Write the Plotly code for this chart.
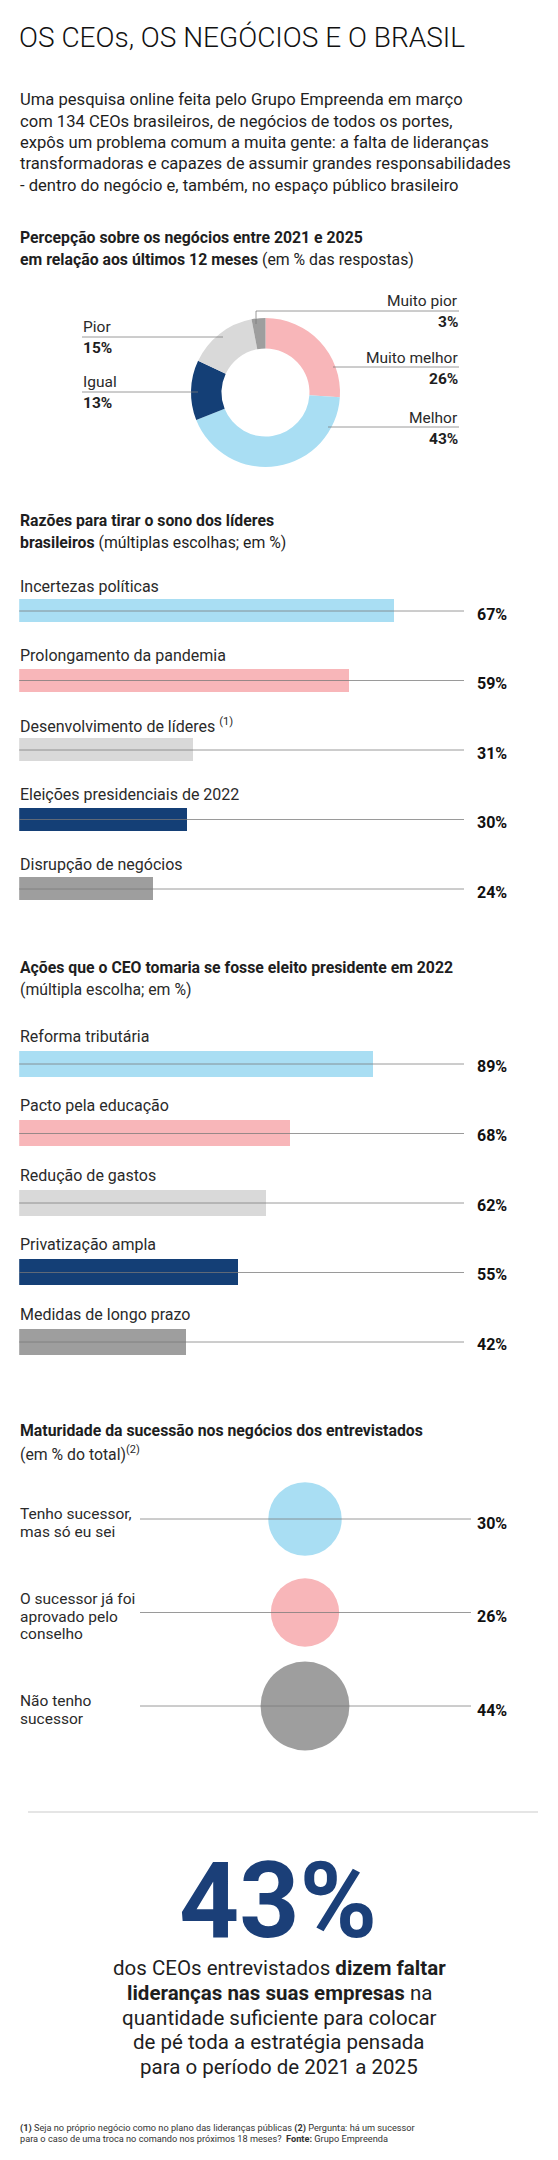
import plotly.graph_objects as go

# page is 558 x 2160; the html body adds an 8px margin, so the figure is 550 x 2152
PAGE_W, PAGE_H = 558, 2160
OFF = 8
W, H = PAGE_W - OFF, PAGE_H - OFF

# ---------------- data ----------------
title_text = "OS CEOs, OS NEGÓCIOS E O BRASIL"
intro_lines = [
    "Uma pesquisa online feita pelo Grupo Empreenda em março",
    "com 134 CEOs brasileiros, de negócios de todos os portes,",
    "expôs um problema comum a muita gente: a falta de lideranças",
    "transformadoras e capazes de assumir grandes responsabilidades",
    "- dentro do negócio e, também, no espaço público brasileiro",
]

pie_labels = ["Muito melhor", "Melhor", "Igual", "Pior", "Muito pior"]
pie_values = [26, 43, 13, 15, 3]

sono_labels = ["Incertezas políticas", "Prolongamento da pandemia",
               "Desenvolvimento de líderes", "Eleições presidenciais de 2022",
               "Disrupção de negócios"]
sono_notes = ["", "", " <sup>(1)</sup>", "", ""]
sono_values = [67, 59, 31, 30, 24]

acoes_labels = ["Reforma tributária", "Pacto pela educação", "Redução de gastos",
                "Privatização ampla", "Medidas de longo prazo"]
acoes_values = [89, 68, 62, 55, 42]

sucessao_labels = ["Tenho sucessor,<br>mas só eu sei",
                   "O sucessor já foi<br>aprovado pelo<br>conselho",
                   "Não tenho<br>sucessor"]
sucessao_values = [30, 26, 44]

destaque_value = 43
destaque_lines = [
    "dos CEOs entrevistados <b>dizem faltar</b>",
    "<b>lideranças nas suas empresas</b> na",
    "quantidade suficiente para colocar",
    "de pé toda a estratégia pensada",
    "para o período de 2021 a 2025",
]
footnote_lines = [
    "<b>(1)</b> Seja no próprio negócio como no plano das lideranças públicas <b>(2)</b> Pergunta: há um sucessor",
    "para o caso de uma troca no comando nos próximos 18 meses?  <b>Fonte:</b> Grupo Empreenda",
]

# ---------------- style ----------------
LBLUE, PINK, DBLUE, LGRAY, GRAY = "#A9DEF3", "#F8B6B9", "#143F76", "#D9D9D9", "#9E9E9E"
pie_colors = [PINK, LBLUE, DBLUE, LGRAY, GRAY]
bar_colors = [LBLUE, PINK, LGRAY, DBLUE, GRAY]
circle_colors = [LBLUE, PINK, GRAY]
BIG_BLUE = "#1B3F78"

FONT = "Roboto, 'Noto Sans', sans-serif"
TXT = "#1e1e1e"
LBL = "#2a2a2a"
LINE = "rgba(120,120,120,0.75)"

LEFT = 18          # left text edge (page px)
VAL_RIGHT = 509    # right edge of the value labels
BAR_X0 = 19.2      # bar baseline
LINE_END = 464     # end of the guide lines


def X(p):
    return (p - OFF) / W


def Y(p):
    return 1 - (p - OFF) / H


annotations = []
shapes = []


def text(x, y, s, size, anchor="left", color=TXT, family=FONT, weight=None):
    f = dict(family=family, size=size, color=color)
    if weight:
        f["weight"] = weight
    annotations.append(dict(x=X(x), y=Y(y), xref="paper", yref="paper", text=s,
                            showarrow=False, xanchor=anchor, yanchor="middle",
                            align=anchor, font=f))


def hline(x0, x1, y, color=LINE, width=1, xref="paper", yref="paper"):
    shapes.append(dict(type="line", xref=xref, yref=yref, x0=x0, x1=x1, y0=y, y1=y,
                       line=dict(color=color, width=width), layer="above"))


def band(c_first, c_last, n):
    step = (c_last - c_first) / (n - 1)
    return [Y(c_last + step / 2), Y(c_first - step / 2)], step


fig = go.Figure()

# ---------------- header ----------------
text(LEFT - 1, 38, title_text, 28, color="#111", weight=300)
for i, line in enumerate(intro_lines):
    text(LEFT, 100 + i * 21.3, line, 16.6)

# ---------------- donut ----------------
text(LEFT, 237, "<b>Percepção sobre os negócios entre 2021 e 2025</b>", 15.8)
text(LEFT, 259, "<b>em relação aos últimos 12 meses</b> (em % das respostas)", 15.8)

fig.add_trace(go.Pie(labels=pie_labels, values=pie_values, sort=False,
                     direction="clockwise", rotation=0, hole=0.59,
                     marker=dict(colors=pie_colors, line=dict(width=0)),
                     textinfo="none", hoverinfo="skip", showlegend=False,
                     domain=dict(x=[X(191), X(340)], y=[Y(467), Y(318)])))

pie_label_pos = {
    "Muito pior": (460, 301, "right"),
    "Muito melhor": (460, 358, "right"),
    "Melhor": (460, 418, "right"),
    "Pior": (81, 327, "left"),
    "Igual": (81, 382, "left"),
}
for lab, val in zip(pie_labels, pie_values):
    x, y, a = pie_label_pos[lab]
    text(x, y, lab, 15.5, anchor=a, color=LBL)
    text(x, y + 21, f"<b>{val}%</b>", 15.5, anchor=a)

pie_leaders = [(256, 459, 311), (333, 459, 367), (328, 459, 427), (82, 223, 337), (82, 198, 392)]
for x0, x1, y in pie_leaders:
    hline(X(x0), X(x1), Y(y))
shapes.append(dict(type="line", xref="paper", yref="paper", x0=X(256), x1=X(256),
                   y0=Y(311), y1=Y(324), line=dict(color=LINE, width=1), layer="above"))

# ---------------- bars: razões ----------------
text(LEFT, 520, "<b>Razões para tirar o sono dos líderes</b>", 15.8)
text(LEFT, 542, "<b>brasileiros</b> (múltiplas escolhas; em %)", 15.8)

dom1, step1 = band(611, 889, len(sono_labels))
fig.add_trace(go.Bar(x=sono_values, y=sono_labels, orientation="h",
                     marker=dict(color=bar_colors, line=dict(width=0)),
                     width=23 / step1, hoverinfo="skip", showlegend=False,
                     xaxis="x", yaxis="y"))
scale1 = 5.597
for i, (lab, note, val) in enumerate(zip(sono_labels, sono_notes, sono_values)):
    annotations.append(dict(x=X(LEFT), xref="paper", y=i, yref="y", yshift=25,
                            text=lab + note, showarrow=False, xanchor="left", yanchor="middle",
                            font=dict(family=FONT, size=16, color=LBL)))
    annotations.append(dict(x=X(VAL_RIGHT), xref="paper", y=i, yref="y", yshift=-3,
                            text=f"<b>{val}%</b>", showarrow=False, xanchor="right", yanchor="middle",
                            font=dict(family=FONT, size=16, color="#111")))
    hline(X(BAR_X0), X(LINE_END), i, yref="y")

# ---------------- bars: ações ----------------
text(LEFT, 967, "<b>Ações que o CEO tomaria se fosse eleito presidente em 2022</b>", 15.8)
text(LEFT, 989, "(múltipla escolha; em %)", 15.8, color=LBL)

dom2, step2 = band(1064, 1342, len(acoes_labels))
fig.add_trace(go.Bar(x=acoes_values, y=acoes_labels, orientation="h",
                     marker=dict(color=bar_colors, line=dict(width=0)),
                     width=26 / step2, hoverinfo="skip", showlegend=False,
                     xaxis="x2", yaxis="y2"))
scale2 = 3.982
for i, (lab, val) in enumerate(zip(acoes_labels, acoes_values)):
    annotations.append(dict(x=X(LEFT), xref="paper", y=i, yref="y2", yshift=28,
                            text=lab, showarrow=False, xanchor="left", yanchor="middle",
                            font=dict(family=FONT, size=16, color=LBL)))
    annotations.append(dict(x=X(VAL_RIGHT), xref="paper", y=i, yref="y2", yshift=-2,
                            text=f"<b>{val}%</b>", showarrow=False, xanchor="right", yanchor="middle",
                            font=dict(family=FONT, size=16, color="#111")))
    hline(X(BAR_X0), X(LINE_END), i, yref="y2")

# ---------------- circles: sucessão ----------------
text(LEFT, 1430, "<b>Maturidade da sucessão nos negócios dos entrevistados</b>", 15.8)
text(LEFT, 1453, "(em % do total)<sup>(2)</sup>", 15.8, color=LBL)

CIRCLE_X = 305
dom3, step3 = band(1519, 1706, len(sucessao_labels))
# plotly area sizing: radius = sqrt(v / 2 / sizeref)  -> diameter ~ 13.4 * sqrt(v)
fig.add_trace(go.Scatter(x=[0] * len(sucessao_values), y=sucessao_labels, mode="markers",
                         marker=dict(size=sucessao_values, sizemode="area", sizeref=2 / 13.4 ** 2,
                                     color=circle_colors, line=dict(width=0), opacity=1),
                         hoverinfo="skip", showlegend=False, xaxis="x3", yaxis="y3"))
for i, (lab, val) in enumerate(zip(sucessao_labels, sucessao_values)):
    parts = lab.split("<br>")
    k = len(parts)
    for j, part in enumerate(parts):
        annotations.append(dict(x=X(LEFT), xref="paper", y=i, yref="y3",
                                yshift=-4 - (j - (k - 1) / 2) * 17.5,
                                text=part, showarrow=False, xanchor="left", yanchor="middle",
                                font=dict(family=FONT, size=15.5, color=LBL)))
    annotations.append(dict(x=X(VAL_RIGHT), xref="paper", y=i, yref="y3", yshift=-4,
                            text=f"<b>{val}%</b>", showarrow=False, xanchor="right", yanchor="middle",
                            font=dict(family=FONT, size=16, color="#111")))
    hline(X(140), X(471), i, yref="y3")

# ---------------- destaque ----------------
hline(X(28), X(538), Y(1812), color="#dcdcdc", width=1.5)
text(278, 1901, f"<b>{destaque_value}%</b>", 105, anchor="center", color=BIG_BLUE)
for i, line in enumerate(destaque_lines):
    text(279, 1968 + i * 24.8, line, 20.5, anchor="center")

for i, line in enumerate(footnote_lines):
    text(LEFT, 2128 + i * 10.3, line, 9.2, color="#333")

# ---------------- layout ----------------
hidden = dict(showgrid=False, zeroline=False, showticklabels=False, showline=False,
              ticks="", fixedrange=True)
fig.update_layout(
    width=W, height=H, margin=dict(l=0, r=0, t=0, b=0),
    paper_bgcolor="white", plot_bgcolor="rgba(0,0,0,0)",
    xaxis=dict(domain=[X(BAR_X0), 1], range=[0, (PAGE_W - BAR_X0) / scale1], **hidden),
    yaxis=dict(domain=dom1, type="category", categoryorder="array", categoryarray=sono_labels,
               range=[len(sono_labels) - 0.5, -0.5], **hidden),
    xaxis2=dict(domain=[X(BAR_X0), 1], range=[0, (PAGE_W - BAR_X0) / scale2], anchor="y2", **hidden),
    yaxis2=dict(domain=dom2, type="category", categoryorder="array", categoryarray=acoes_labels,
                range=[len(acoes_labels) - 0.5, -0.5], anchor="x2", **hidden),
    xaxis3=dict(domain=[0, 1], range=[OFF - CIRCLE_X, PAGE_W - CIRCLE_X], anchor="y3", **hidden),
    yaxis3=dict(domain=dom3, type="category", categoryorder="array", categoryarray=sucessao_labels,
                range=[len(sucessao_labels) - 0.5, -0.5], anchor="x3", **hidden),
    annotations=annotations, shapes=shapes, bargap=0,
)

fig.write_html("out.html")
